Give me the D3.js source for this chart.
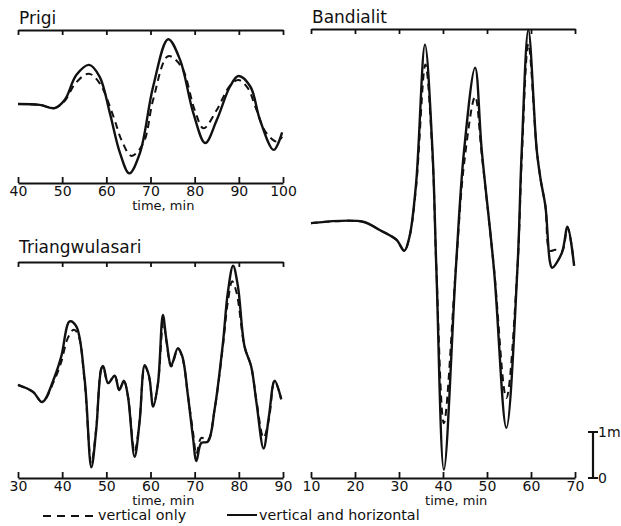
<!DOCTYPE html>
<html>
<head>
<meta charset="utf-8">
<script src="https://cdn.jsdelivr.net/npm/d3@7"></script>
<style>
  body { margin: 0; background: #fff; }
  text { font-family: "DejaVu Sans", sans-serif; fill: #111; }
</style>
</head>
<body>
<script>
// wave records, [time in min, amplitude in m]
var prigiSolid = [[40,0],[44.9,-0.02],[48.3,-0.09],[50.6,0.09],[53.2,0.63],[56.1,0.85],[58.5,0.59],[60.8,-0.2],
    [63.1,-1.07],[65.2,-1.51],[67.6,-1.07],[70.6,0.38],[74,1.41],[76.7,0.96],[79.7,-0.2],[82.4,-0.85],[85,-0.35],
    [88,0.38],[89.9,0.61],[92.6,0.38],[94.8,-0.35],[97.9,-1.0],[99.8,-0.62]];
var prigiDashed = [[40,0],[44.9,-0.02],[48.3,-0.09],[50.6,0.07],[53,0.45],[56,0.66],[58.5,0.45],[61.6,-0.27],
    [63.5,-0.8],[65.7,-1.13],[68.4,-0.85],[70.6,0.09],[74,1.04],[77,0.81],[80,-0.13],[82,-0.53],[85,-0.13],
    [88,0.4],[89.9,0.52],[92,0.35],[94,-0.13],[96,-0.6],[98.6,-0.82],[99.8,-0.71]];

var triSolid = [[30,0],[33.4,-0.15],[35.5,-0.37],[38.3,0.18],[39.8,0.62],[41.7,1.38],[43.2,1.27],[45.1,0.11],
    [46.6,-1.79],[47.7,-0.98],[48.9,0.37],[49.3,0.41],[50.4,0.04],[51.9,0.2],[52.9,-0.11],[54,0.09],[54.9,-0.25],
    [56.4,-1.56],[57.5,-0.83],[58.7,0.43],[59.7,0.18],[60.6,-0.47],[61.7,0.04],[62.8,1.52],[63.6,0.98],[64.7,0.43],
    [66.2,0.8],[67.2,0.62],[68.5,-0.25],[69.6,-1.12],[70.4,-1.65],[71.5,-1.26],[73,-1.23],[74.5,-0.54],[76.4,0.91],
    [77.5,2.0],[78.7,2.59],[79.8,2.14],[81.3,0.83],[82.8,0.4],[84,-0.39],[85.6,-1.38],[86.8,-0.69],[88.1,0.09],[89.6,-0.31]];
var triDashed = [[30,0],[33.4,-0.15],[35.5,-0.37],[38.3,0.12],[39.8,0.5],[41.2,1.0],[42.6,1.2],[43.6,1.1],[45.1,0.05],
    [46.6,-1.7],[47.7,-0.95],[48.9,0.35],[49.3,0.38],[50.4,0.04],[51.9,0.2],[52.9,-0.1],[54,0.07],[54.9,-0.25],
    [56.4,-1.45],[57.5,-0.8],[58.7,0.4],[59.7,0.16],[60.6,-0.45],[61.7,0.04],[62.9,1.38],[63.6,0.95],[64.7,0.4],
    [66.2,0.78],[67.2,0.6],[68.5,-0.25],[69.6,-1.0],[70.4,-1.5],[71.5,-1.15],[73,-1.2],[74.5,-0.54],[76.4,0.85],
    [77.5,1.8],[78.5,2.25],[79.5,2.0],[81.3,0.83],[82.8,0.4],[84,-0.35],[85.6,-1.15],[86.8,-0.75],[88.1,0.09],[89.6,-0.31]];

var bandSolid = [[10,0],[21.8,0.03],[25.6,-0.15],[29.4,-0.36],[31.2,-0.6],[32.4,-0.29],[33.9,0.88],[35.9,3.88],
    [37.6,1.59],[38.5,-1.02],[40.2,-5.36],[42.9,-1.02],[44.8,1.59],[47.3,3.38],[48.8,1.59],[51.6,-1.02],[54.4,-4.45],
    [56.9,-1.02],[57.9,1.59],[59.4,4.2],[61.3,1.59],[62.2,0.94],[63.3,0.35],[64.3,-0.84],[64.8,-0.97],[67,-0.65],
    [68.3,-0.08],[69.8,-0.93]];
var bandDashed = [[10,0],[21.8,0.03],[25.6,-0.15],[29.4,-0.36],[31.2,-0.6],[32.4,-0.29],[33.9,0.8],[36,3.45],
    [37.6,1.5],[38.5,-1.0],[40.2,-4.35],[42.9,-1.0],[44.8,1.3],[47.3,2.75],[48.8,1.5],[51.6,-1.0],[54.4,-3.8],
    [56.9,-1.0],[57.9,1.4],[59.4,3.9],[61.3,1.6],[62.2,0.94],[63.3,0.35],[64.3,-0.6],[65.5,-0.58],[67,-0.62],
    [68.3,-0.1],[69.8,-0.9]];

var prigiTicks = [40, 50, 60, 70, 80, 90, 100];
var triTicks = [30, 40, 50, 60, 70, 80, 90];
var bandTicks = [10, 20, 30, 40, 50, 60, 70];
var scaleBar = [0, 1]; // metres
var legendLabels = ["vertical only", "vertical and horizontal"];

var width = 621, height = 526;

var panels = [
    { name: "Prigi", solid: prigiSolid, dashed: prigiDashed, ticks: prigiTicks,
      left: 18, right: 283, top: 30, bottom: 183, yDomain: [-1.72, 1.61], titleY: 24, timeAt: 72.9 },
    { name: "Triangwulasari", solid: triSolid, dashed: triDashed, ticks: triTicks,
      left: 18, right: 283, top: 262, bottom: 478, yDomain: [-2.02, 2.67], titleY: 253, timeAt: 62.9 },
    { name: "Bandialit", solid: bandSolid, dashed: bandDashed, ticks: bandTicks,
      left: 311, right: 575, top: 29, bottom: 478, yDomain: [-5.54, 4.22], titleY: 23, timeAt: 43 }
];

var svg = d3.select("body").append("svg")
    .attr("width", width)
    .attr("height", height);

panels.forEach(function (p) {
    var x = d3.scaleLinear()
        .domain([p.ticks[0], p.ticks[p.ticks.length - 1]])
        .range([p.left, p.right]);
    var y = d3.scaleLinear().domain(p.yDomain).range([p.bottom, p.top]);
    p.x = x;
    p.y = y;

    var g = svg.append("g");

    // top frame line, ticks pointing down
    var top = g.append("g")
        .attr("transform", "translate(0," + p.top + ")")
        .call(d3.axisTop(x).tickValues(p.ticks).tickSizeInner(-5).tickSizeOuter(0).tickFormat(""));

    // bottom time axis, ticks pointing up
    var bottom = g.append("g")
        .attr("transform", "translate(0," + p.bottom + ")")
        .call(d3.axisBottom(x).tickValues(p.ticks).tickSizeInner(-6).tickSizeOuter(0).tickPadding(3));

    [top, bottom].forEach(function (a) {
        a.select(".domain").attr("stroke", "#111").attr("stroke-width", 2.2);
        a.selectAll(".tick line").attr("stroke", "#111").attr("stroke-width", 1.8);
        a.selectAll(".tick text")
            .style("font-family", "DejaVu Sans, sans-serif")
            .style("font-size", "14px")
            .attr("fill", "#111");
    });

    g.append("text")
        .attr("x", x(p.timeAt))
        .attr("y", p.bottom + 27)
        .attr("text-anchor", "middle")
        .style("font-size", "13px")
        .text("time,  min");

    g.append("text")
        .attr("x", p.left + 1)
        .attr("y", p.titleY)
        .style("font-size", "17px")
        .text(p.name);

    var line = d3.line()
        .x(function (d) { return x(d[0]); })
        .y(function (d) { return y(d[1]); })
        .curve(d3.curveCatmullRom.alpha(0.5));

    g.append("path")
        .datum(p.dashed)
        .attr("d", line)
        .attr("fill", "none")
        .attr("stroke", "#111")
        .attr("stroke-width", 2)
        .attr("stroke-dasharray", "7,5");

    g.append("path")
        .datum(p.solid)
        .attr("d", line)
        .attr("fill", "none")
        .attr("stroke", "#111")
        .attr("stroke-width", 2.4)
        .attr("stroke-linejoin", "round");
});

// 1 m scale bar next to Bandialit
var band = panels[2];
var barY0 = band.y(band.yDomain[0] + scaleBar[0]);
var barY1 = band.y(band.yDomain[0] + scaleBar[1]);
var bar = svg.append("g");
bar.append("line").attr("x1", 593).attr("x2", 593).attr("y1", barY0).attr("y2", barY1)
    .attr("stroke", "#111").attr("stroke-width", 2.2);
[barY0, barY1].forEach(function (yy) {
    bar.append("line").attr("x1", 588).attr("x2", 598).attr("y1", yy).attr("y2", yy)
        .attr("stroke", "#111").attr("stroke-width", 2);
});
bar.append("text").attr("x", 598).attr("y", barY1 + 5).style("font-size", "14px").text(scaleBar[1] + "m");
bar.append("text").attr("x", 598).attr("y", barY0 + 5).style("font-size", "14px").text(scaleBar[0]);

// legend
var legend = svg.append("g");
legend.append("line").attr("x1", 43).attr("x2", 95).attr("y1", 516).attr("y2", 516)
    .attr("stroke", "#111").attr("stroke-width", 2).attr("stroke-dasharray", "8,6");
legend.append("text").attr("x", 98).attr("y", 520).style("font-size", "14.3px").text(legendLabels[0]);
legend.append("line").attr("x1", 227).attr("x2", 257).attr("y1", 515).attr("y2", 515)
    .attr("stroke", "#111").attr("stroke-width", 2);
legend.append("text").attr("x", 259).attr("y", 520).style("font-size", "14.3px").text(legendLabels[1]);
</script>
</body>
</html>
